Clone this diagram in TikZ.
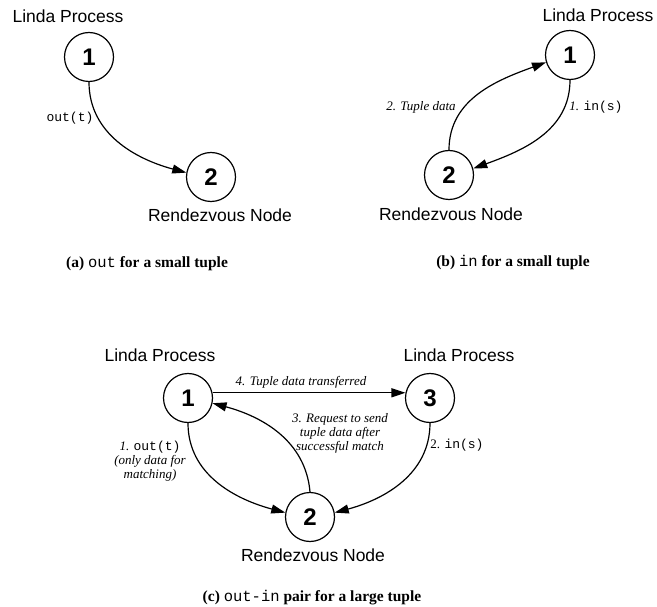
\documentclass[tikz,border=0pt]{standalone}
\usepackage{fontspec}
\setmainfont{Liberation Serif}
\setsansfont{Liberation Sans}
\setmonofont{Liberation Mono}
\usetikzlibrary{arrows.meta}
\newcommand\tup[1]{{\upshape\mdseries\ttfamily #1}}

\begin{document}
\begin{tikzpicture}[x=1pt,y=-1pt,
  proc/.style={circle,draw,line width=1.2pt,minimum size=49pt,inner sep=0pt,font=\sffamily\bfseries\fontsize{24}{24}\selectfont},
  role/.style={font=\sffamily\fontsize{17.5}{20}\selectfont,inner sep=0pt},
  lbl/.style={font=\itshape\fontsize{13}{14}\selectfont,inner sep=0pt,align=center},
  subcap/.style={font=\bfseries\fontsize{15.5}{18}\selectfont,inner sep=0pt},
  msg/.style={line width=1.2pt,-{Triangle[length=14pt,width=9pt]}}]
\useasboundingbox (0,0) rectangle (657,607);

% (a) out
\node[role] (aproc) at (68,16) {Linda Process};
\node[proc] (a1) at (89,57) {1};
\node[proc] (a2) at (211,177) {2};
\node[role] (arv) at (220,215) {Rendezvous Node};
\draw[msg] (a1.south) to[out=-90,in=165] (a2.170);
\node[lbl] (aout) at (70,118) {\tup{out(t)}};
\node[subcap] (acap) at (147,264) {(a) \tup{out} for a small tuple};

% (b) in
\node[role] (bproc) at (598,15) {Linda Process};
\node[proc] (b1) at (570,55) {1};
\node[proc] (b2) at (449,175) {2};
\node[role] (brv) at (451,214) {Rendezvous Node};
\draw[msg] (b1.south) to[out=-90,in=20] (b2.15);
\draw[msg] (b2.north) to[out=90,in=200] (b1.197);
\node[lbl] (bdata) at (421,107) {2. Tuple data};
\node[lbl] (bin) at (596,107) {1. \tup{in(s)}};
\node[subcap] (bcap) at (513,263) {(b) \tup{in} for a small tuple};

% (c) out-in pair
\node[role] (cproca) at (160,355) {Linda Process};
\node[role] (cprocb) at (459,355) {Linda Process};
\node[proc] (c1) at (188,398) {1};
\node[proc] (c3) at (430,398) {3};
\node[proc] (c2) at (310,517) {2};
\node[role] (crv) at (313,555) {Rendezvous Node};
\draw[msg] (c1.12) -- (c3.168);
\draw[msg] (c1.south) to[out=-90,in=165] (c2.170);
\draw[msg] (c2.north) to[out=95,in=-15] (c1.-12);
\draw[msg] (c3.south) to[out=-90,in=15] (c2.10);
\node[lbl] (cxfer) at (301,382) {4. Tuple data transferred};
\node[lbl] (creq) at (340,433) {3. Request to send\\tuple data after\\successful match};
\node[lbl] (cin) at (457,445) {\upshape 2. \tup{in(s)}};
\node[lbl] (cout) at (150,461) {1. \tup{out(t)}\\(only data for\\matching)};
\node[subcap] (ccap) at (312,598) {(c) \tup{out-in} pair for a large tuple};
\end{tikzpicture}
\end{document}
